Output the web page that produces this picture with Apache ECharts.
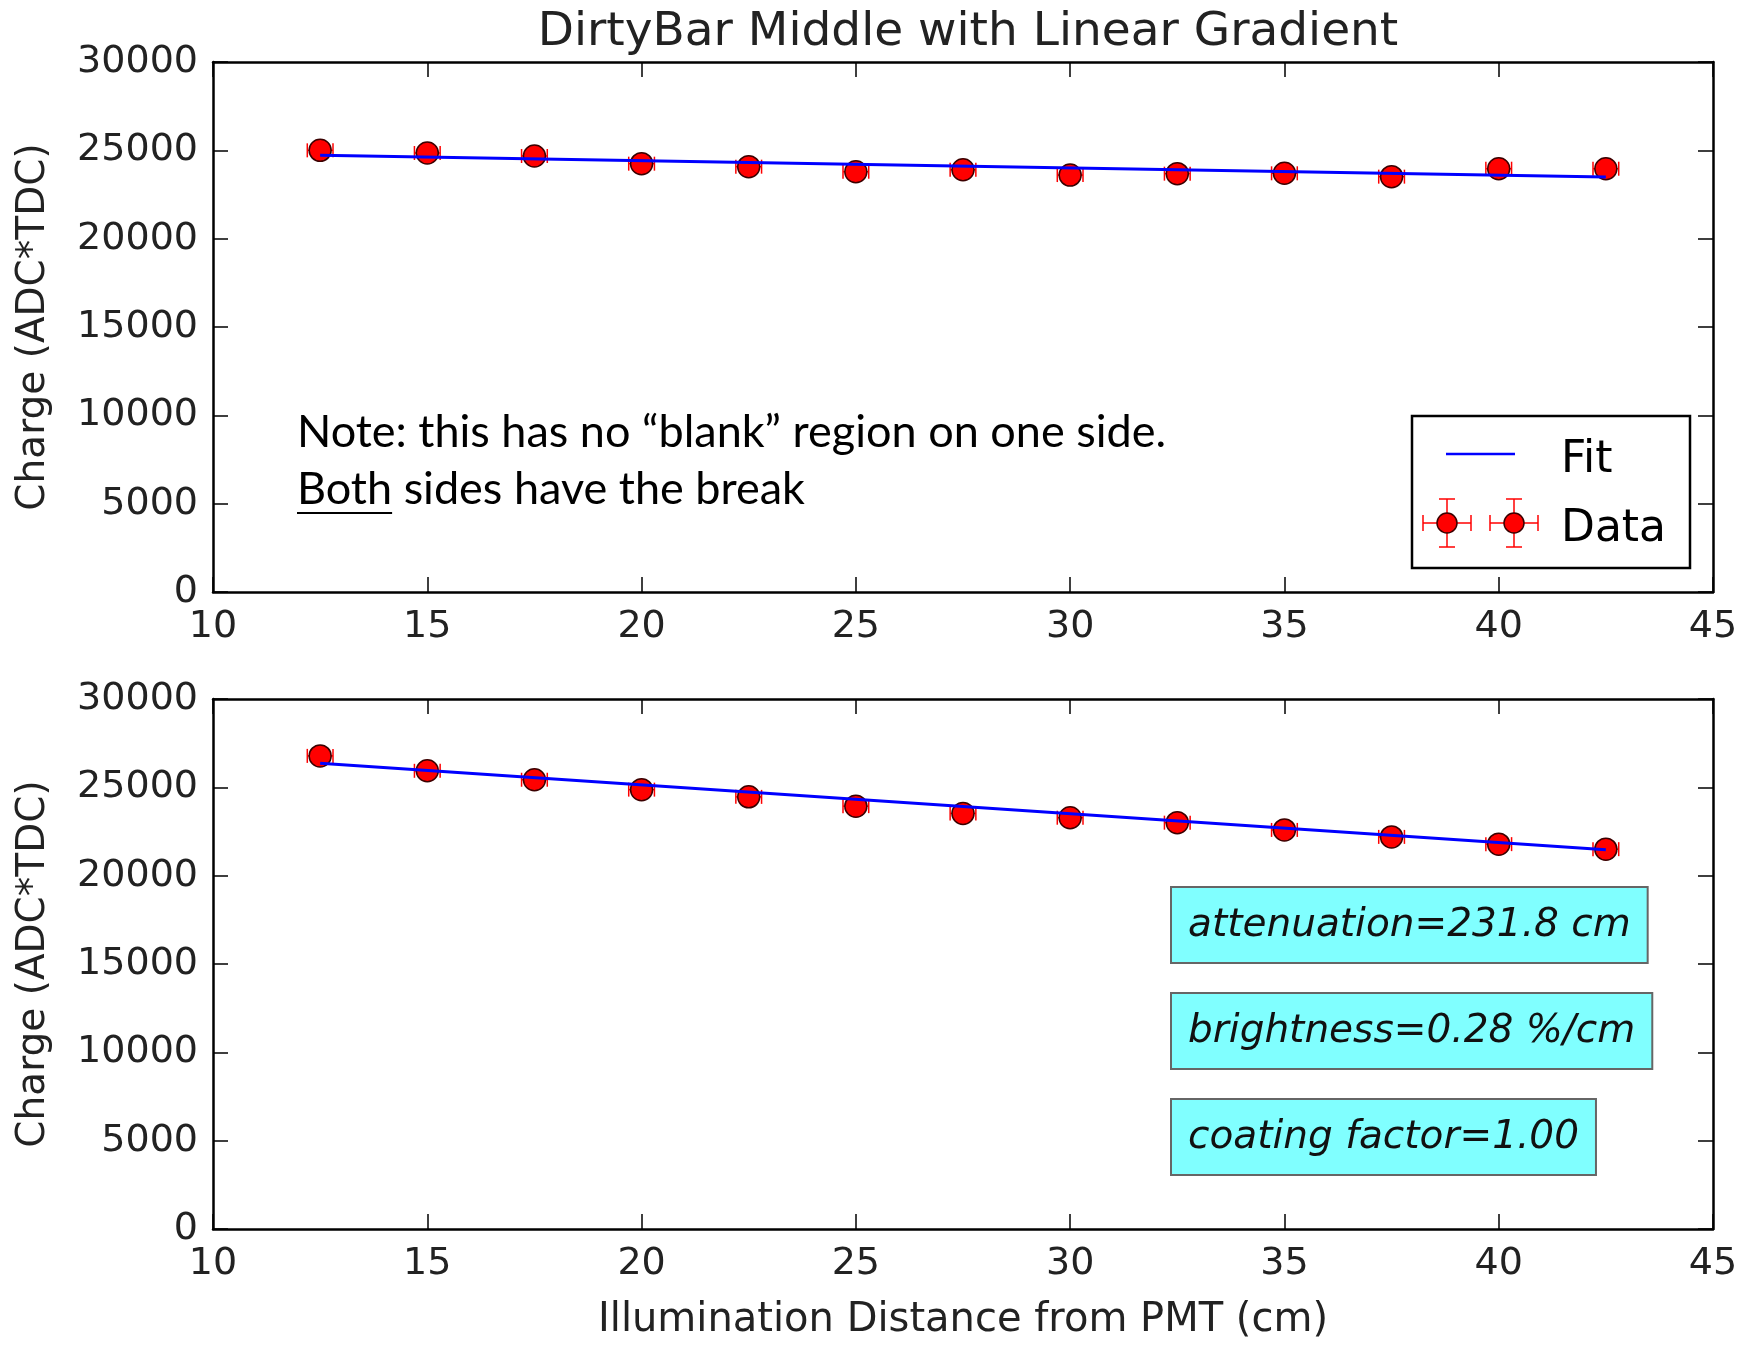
<!DOCTYPE html>
<html>
<head>
<meta charset="utf-8">
<script src="https://cdn.jsdelivr.net/npm/echarts@6/dist/echarts.min.js"></script>
<style>
  html, body { margin: 0; padding: 0; background: #fff; }
  #main { width: 1748px; height: 1345px; }
</style>
</head>
<body>
<div id="main"></div>
<script>
// illumination distance (cm)
const distance = [12.5, 15, 17.5, 20, 22.5, 25, 27.5, 30, 32.5, 35, 37.5, 40, 42.5];
// top panel charge
const chargeTop = [25000, 24850, 24680, 24245, 24075, 23790, 23900, 23600, 23680, 23700, 23510, 23960, 23960];
// bottom panel charge
const chargeBottom = [26780, 25935, 25430, 24870, 24460, 23935, 23525, 23280, 23000, 22590, 22195, 21785, 21500];
const distErr = 0.3;
const chargeErr = 150;
// fit line end points
const fitX = [12.5, 42.5];
const fitTop = [24720, 23490];
const fitBottom = [26370, 21470];

const xTicks = [10, 15, 20, 25, 30, 35, 40, 45];
const yTicks = [0, 5000, 10000, 15000, 20000, 25000, 30000];
const boxTexts = ['attenuation=231.8 cm', 'brightness=0.28 %/cm', 'coating factor=1.00'];
const noteLine1 = 'Note: this has no \u201cblank\u201d region on one side.';
const noteLine2a = 'Both';
const noteLine2b = ' sides have the break';

const chart = echarts.init(document.getElementById('main'));

const FONT = 'DejaVu Sans';
const NOTE_FONT = 'Lato';
const NOTE_SIZE = 45;
const gridL = 213, gridW = 1500, gridH = 530;
const grids = [
  { left: gridL, top: 62, width: gridW, height: gridH },
  { left: gridL, top: 699, width: gridW, height: gridH }
];

function xAxis(gridIndex, mirror, withName) {
  return {
    type: 'value', gridIndex: gridIndex,
    position: mirror ? 'top' : 'bottom',
    min: xTicks[0], max: xTicks[xTicks.length - 1], interval: 5,
    name: withName ? 'Illumination Distance from PMT (cm)' : '',
    nameLocation: 'middle', nameGap: 72,
    nameTextStyle: { fontFamily: FONT, fontSize: 40, color: '#222' },
    axisLine: { show: true, onZero: false, lineStyle: { color: '#000', width: 2.5 } },
    axisTick: { show: true, inside: true, length: 15, lineStyle: { color: '#000', width: 1.5 } },
    axisLabel: { show: !mirror, margin: 16, fontFamily: FONT, fontSize: 38, color: '#222' },
    splitLine: { show: false }
  };
}

function yAxis(gridIndex, mirror) {
  return {
    type: 'value', gridIndex: gridIndex,
    position: mirror ? 'right' : 'left',
    min: yTicks[0], max: yTicks[yTicks.length - 1], interval: 5000,
    name: mirror ? '' : 'Charge (ADC*TDC)',
    nameLocation: 'middle', nameGap: 160,
    nameTextStyle: { fontFamily: FONT, fontSize: 39, color: '#222' },
    axisLine: { show: true, onZero: false, lineStyle: { color: '#000', width: 2.5 } },
    axisTick: { show: true, inside: true, length: 15, lineStyle: { color: '#000', width: 1.5 } },
    axisLabel: {
      show: !mirror, margin: 15, fontFamily: FONT, fontSize: 38, color: '#222',
      formatter: v => String(v)
    },
    splitLine: { show: false }
  };
}

function renderErr(params, api) {
  const x = api.value(0), y = api.value(1), ex = api.value(2), ey = api.value(3);
  const l = api.coord([x - ex, y]), r = api.coord([x + ex, y]);
  const t = api.coord([x, y + ey]), b = api.coord([x, y - ey]);
  const cap = 7;
  const st = { stroke: '#ff0000', lineWidth: 1.5 };
  return {
    type: 'group',
    children: [
      { type: 'line', shape: { x1: l[0], y1: l[1], x2: r[0], y2: r[1] }, style: st },
      { type: 'line', shape: { x1: l[0], y1: l[1] - cap, x2: l[0], y2: l[1] + cap }, style: st },
      { type: 'line', shape: { x1: r[0], y1: r[1] - cap, x2: r[0], y2: r[1] + cap }, style: st },
      { type: 'line', shape: { x1: t[0], y1: t[1], x2: b[0], y2: b[1] }, style: st },
      { type: 'line', shape: { x1: t[0] - cap, y1: t[1], x2: t[0] + cap, y2: t[1] }, style: st },
      { type: 'line', shape: { x1: b[0] - cap, y1: b[1], x2: b[0] + cap, y2: b[1] }, style: st }
    ]
  };
}

function panelSeries(idx, values, fit) {
  const axisX = idx * 2, axisY = idx * 2;
  return [
    {
      type: 'custom', xAxisIndex: axisX, yAxisIndex: axisY, z: 2,
      renderItem: renderErr,
      data: distance.map((d, i) => [d, values[i], distErr, chargeErr])
    },
    {
      type: 'scatter', xAxisIndex: axisX, yAxisIndex: axisY, z: 3,
      symbol: 'circle', symbolSize: 22,
      itemStyle: { color: '#ff0000', borderColor: '#3a0000', borderWidth: 1.5, opacity: 1 },
      data: distance.map((d, i) => [d, values[i]])
    },
    {
      type: 'line', xAxisIndex: axisX, yAxisIndex: axisY, z: 4,
      symbol: 'none', lineStyle: { color: '#0000ff', width: 3 },
      data: fitX.map((d, i) => [d, fit[i]])
    }
  ];
}

// underline width for "Both"
const ctx = document.createElement('canvas').getContext('2d');
ctx.font = NOTE_SIZE + 'px ' + NOTE_FONT;
const bothW = ctx.measureText(noteLine2a).width;

const errSt = { stroke: '#ff0000', lineWidth: 1.5 };
function legendMarker(cx, cy) {
  return [
    { type: 'line', z: 11, shape: { x1: cx - 24, y1: cy, x2: cx + 24, y2: cy }, style: errSt },
    { type: 'line', z: 11, shape: { x1: cx - 24, y1: cy - 8, x2: cx - 24, y2: cy + 8 }, style: errSt },
    { type: 'line', z: 11, shape: { x1: cx + 24, y1: cy - 8, x2: cx + 24, y2: cy + 8 }, style: errSt },
    { type: 'line', z: 11, shape: { x1: cx, y1: cy - 24, x2: cx, y2: cy + 24 }, style: errSt },
    { type: 'line', z: 11, shape: { x1: cx - 8, y1: cy - 24, x2: cx + 8, y2: cy - 24 }, style: errSt },
    { type: 'line', z: 11, shape: { x1: cx - 8, y1: cy + 24, x2: cx + 8, y2: cy + 24 }, style: errSt },
    { type: 'circle', z: 12, shape: { cx: cx, cy: cy, r: 10 }, style: { fill: '#ff0000', stroke: '#3a0000', lineWidth: 1.5 } }
  ];
}

const boxTops = [888, 994, 1100];

const option = {
  backgroundColor: '#ffffff',
  animation: false,
  title: {
    text: 'DirtyBar Middle with Linear Gradient',
    left: 963, top: 4, textAlign: 'center',
    textStyle: { fontFamily: FONT, fontSize: 47, fontWeight: 'normal', color: '#222' }
  },
  grid: grids,
  xAxis: [xAxis(0, false, false), xAxis(0, true, false), xAxis(1, false, true), xAxis(1, true, false)],
  yAxis: [yAxis(0, false), yAxis(0, true), yAxis(1, false), yAxis(1, true)],
  series: [].concat(panelSeries(0, chargeTop, fitTop), panelSeries(1, chargeBottom, fitBottom)),
  graphic: [
    // note text
    { type: 'text', left: 297, top: 410, style: { text: noteLine1, font: NOTE_SIZE + 'px ' + NOTE_FONT, fill: '#000' } },
    { type: 'text', left: 297, top: 467, style: { text: noteLine2a + noteLine2b, font: NOTE_SIZE + 'px ' + NOTE_FONT, fill: '#000' } },
    { type: 'line', shape: { x1: 297, y1: 513, x2: 297 + bothW, y2: 513 }, style: { stroke: '#000', lineWidth: 2 } },
    // legend
    { type: 'rect', z: 10, shape: { x: 1412, y: 416, width: 278, height: 152 }, style: { fill: '#fff', stroke: '#000', lineWidth: 2.5 } },
    { type: 'line', z: 11, shape: { x1: 1446, y1: 454, x2: 1515, y2: 454 }, style: { stroke: '#0000ff', lineWidth: 2.5 } },
    { type: 'text', z: 11, x: 1561, y: 461, style: { text: 'Fit', font: '44px ' + FONT, fill: '#000', verticalAlign: 'middle' } },
    { type: 'text', z: 11, x: 1561, y: 530, style: { text: 'Data', font: '44px ' + FONT, fill: '#000', verticalAlign: 'middle' } }
  ].concat(legendMarker(1447, 523), legendMarker(1514, 523)).concat(boxTexts.map((t, i) => ({
    type: 'text', x: 1172, y: boxTops[i], z: 10,
    style: {
      text: t, font: 'italic 39px ' + FONT, fill: '#111',
      backgroundColor: '#80ffff', borderColor: '#666', borderWidth: 2,
      padding: [18, 16, 17, 16]
    }
  })))
};

chart.setOption(option);
</script>
</body>
</html>
